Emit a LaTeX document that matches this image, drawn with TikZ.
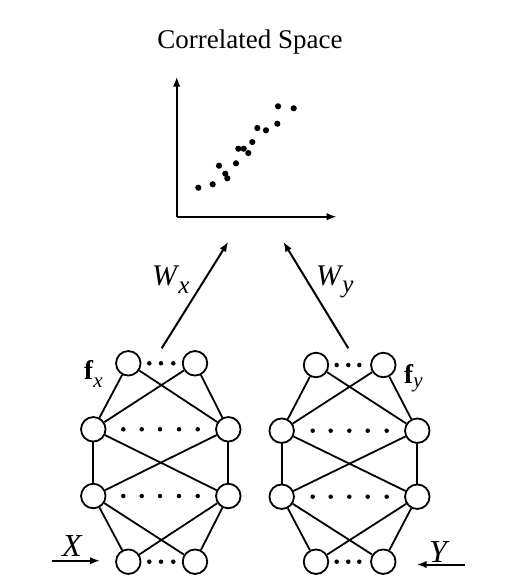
\documentclass[tikz,border=0pt]{standalone}
\usepackage{fontspec}
\setmainfont{Liberation Serif}
\usetikzlibrary{arrows.meta}
\begin{document}
\begin{tikzpicture}[x=1pt,y=-1pt,
  neuron/.style={circle,draw,line width=1.8pt,minimum size=24.5pt,inner sep=0pt,fill=white},
  link/.style={line width=1.8pt},
  arr/.style={line width=2pt,-{Latex[length=10pt,width=7.5pt]}},
  sdot/.style={circle,fill,inner sep=0pt,minimum size=4.5pt},
  pdot/.style={circle,fill,inner sep=0pt,minimum size=6.2pt},
  lbl/.style={inner sep=0pt,anchor=base west}]
\useasboundingbox (0,0) rectangle (517,581);

% title and plot
\node[inner sep=0pt] (title) at (250,42) {\fontsize{27}{30}\selectfont Correlated Space};
\coordinate (o) at (176.7,216.7);
\coordinate (ytip) at (176.7,76.7);
\coordinate (xtip) at (336.7,216.7);
\draw[arr] (o) -- (ytip);
\draw[arr] (o) -- (xtip);
\foreach \i/\p in {1/{198.3,187.7},2/{212.7,184.3},3/{219,165.7},4/{225.3,173.7},5/{227.3,178.3},
  6/{236,163.3},7/{238.3,148.7},8/{243.7,148.7},9/{248.3,153},10/{252.3,142},11/{257.3,128},
  12/{266,130.3},13/{277.3,123.7},14/{278,106.3},15/{293.7,108.3}}
  \node[pdot] (p\i) at (\p) {};

% left network
\node[neuron] (L1a) at (128.3,363.3) {};
\node[neuron] (L1b) at (195,363.3) {};
\node[neuron] (L2a) at (93.3,429.3) {};
\node[neuron] (L2b) at (228.3,429.3) {};
\node[neuron] (L3a) at (93.3,496) {};
\node[neuron] (L3b) at (228.3,496) {};
\node[neuron] (L4a) at (128.3,561.7) {};
\node[neuron] (L4b) at (195,561.7) {};
% right network
\node[neuron] (R1a) at (316,365) {};
\node[neuron] (R1b) at (383.3,365) {};
\node[neuron] (R2a) at (281.7,430.7) {};
\node[neuron] (R2b) at (417.3,430.7) {};
\node[neuron] (R3a) at (281.7,496.7) {};
\node[neuron] (R3b) at (417.3,496.7) {};
\node[neuron] (R4a) at (316,561.7) {};
\node[neuron] (R4b) at (383.3,561.7) {};

\foreach \s in {L,R}{
  \foreach \u/\v in {1/2,2/3,3/4}{
    \draw[link] (\s\u a) -- (\s\v a);
    \draw[link] (\s\u a) -- (\s\v b);
    \draw[link] (\s\u b) -- (\s\v a);
    \draw[link] (\s\u b) -- (\s\v b);
  }
}

% dots
\foreach \x [count=\i] in {149.3,161,173.3}{
  \node[sdot] (lt\i) at (\x,363.3) {};
  \node[sdot] (lb\i) at (\x,561.7) {};
}
\foreach \x [count=\i] in {123.3,141.7,160,179,197.7}{
  \node[sdot] (lm\i) at (\x,429.3) {};
  \node[sdot] (ln\i) at (\x,496) {};
}
\foreach \x [count=\i] in {336.7,348.3,359.3}{
  \node[sdot] (rt\i) at (\x,365) {};
  \node[sdot] (rb\i) at (\x,561.7) {};
}
\foreach \x [count=\i] in {312.7,330.7,349.3,367.7,386.7}{
  \node[sdot] (rm\i) at (\x,430.7) {};
  \node[sdot] (rn\i) at (\x,496.7) {};
}

% projection arrows
\coordinate (wxs) at (161.7,348.3);
\coordinate (wxe) at (228.3,241.7);
\coordinate (wys) at (348.3,348.3);
\coordinate (wye) at (283.3,241.7);
\draw[arr] (wxs) -- (wxe);
\draw[arr] (wys) -- (wye);
\node[lbl] (Wx) at (152,285) {\fontsize{30}{32}\selectfont\textit{W}\kern-1pt\raisebox{-8pt}{\fontsize{25}{26}\selectfont\textit{x}}};
\node[lbl] (Wy) at (316,285) {\fontsize{30}{32}\selectfont\textit{W}\kern-1pt\raisebox{-7pt}{\fontsize{25}{26}\selectfont\textit{y}}};

% feature labels
\node[lbl] (fx) at (84,379) {\fontsize{27}{28}\selectfont\textbf{f}\raisebox{-8pt}{\fontsize{21}{22}\selectfont\textit{x}}};
\node[lbl] (fy) at (404,383) {\fontsize{27}{28}\selectfont\textbf{f}\raisebox{-4pt}{\fontsize{21}{22}\selectfont\textit{y}}};

% inputs
\node[lbl] (X) at (62,556) {\fontsize{32}{34}\selectfont\textit{X}};
\node[lbl] (Y) at (429,562) {\fontsize{32}{34}\selectfont\textit{Y}};
\coordinate (xs) at (51.7,560.7);
\coordinate (xe) at (100,560.7);
\coordinate (ys) at (465,564.5);
\coordinate (ye) at (416.7,564.5);
\draw[arr] (xs) -- (xe);
\draw[arr] (ys) -- (ye);
\end{tikzpicture}
\end{document}
